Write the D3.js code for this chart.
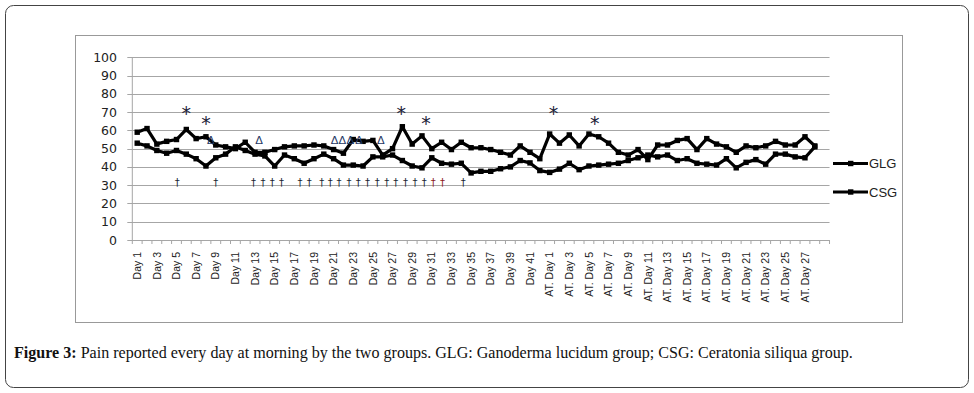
<!DOCTYPE html>
<html>
<head>
<meta charset="utf-8">
<script src="https://cdn.jsdelivr.net/npm/d3@7"></script>
<style>
	body { margin: 0; background: #fff; }
	svg { display: block; }
</style>
</head>
<body>
<svg id="chart" width="974" height="393"></svg>
<script>
// 42 days of treatment, 28 days after treatment, and one empty slot Excel left at the end
const categories = d3.range(1, 43).map(d => "Day " + d)
	.concat(d3.range(1, 29).map(d => "AT. Day " + d))
	.concat([""]);

// pain scores
const glg = [53, 51.5, 49, 47.5, 49, 47, 44.5, 40.5, 45, 47,
	51, 49, 47, 46, 40.5, 46.5, 44.5, 42, 44.5, 47,
	44.5, 41, 41, 40.5, 45.5, 45.5, 46.5, 43.5, 40.5, 39.5,
	45, 42, 41.5, 42, 36.7, 37.6, 37.6, 39, 40, 43.5,
	42.2, 38, 37, 38.8, 42, 38.5, 40.5, 41, 41.5, 42,
	43.5, 45, 46.5, 45.5, 46.5, 43.5, 44.5, 42, 41.5, 41,
	44.5, 39.5, 42.5, 44, 41.5, 47, 47, 45.5, 45, 51];

const csg = [59, 61, 52.5, 54, 55, 60.5, 55.5, 56.5, 52, 51,
	50, 53.5, 48, 48, 49.5, 51, 51.5, 51.5, 52, 51.5,
	49.5, 47.5, 55, 54, 54.5, 46.5, 50, 62, 52.5, 57,
	50, 53.5, 49.5, 53.5, 50.5, 50.5, 49.5, 48, 46.5, 51.5,
	48, 44.5, 58, 53, 57.5, 51.5, 58, 56.5, 53, 48,
	46.5, 49.5, 44, 52, 52, 54.5, 55.5, 49.5, 55.5, 52.5,
	51, 48, 51.5, 50.5, 51.5, 54, 52, 52, 56.5, 51.5];

const yTicks = [0, 10, 20, 30, 40, 50, 60, 70, 80, 90, 100];

// significance marks typed over the plot: [category position, value]
const stars = [[5.0, 70.4], [7.0, 65.1], [26.9, 70.4], [29.4, 65.1], [42.4, 70.4], [46.6, 65.1]];
const deltas = [7.5, 12.4, 20.1, 20.9, 21.7, 22.6, 24.8];
const deltaValue = 54.8;
const daggers = [4.07, 8.01, 11.85, 12.8, 13.75, 14.7, 16.57, 17.52, 18.78, 19.65, 20.54,
	21.56, 22.5, 23.46, 24.44, 25.4, 26.34, 27.33, 28.28, 29.23, 30.14, 31.1, 33.2];
const redDaggers = [30.14, 31.1];
const daggerValue = 31.6;

const svg = d3.select("#chart");

// outer figure frame
svg.append("rect")
	.attr("x", 5.5).attr("y", 5.5)
	.attr("width", 963).attr("height", 382)
	.attr("rx", 8)
	.attr("fill", "none")
	.attr("stroke", "#444");

// chart area border
svg.append("rect")
	.attr("x", 75.5).attr("y", 35.5)
	.attr("width", 827).attr("height", 287)
	.attr("fill", "#fff")
	.attr("stroke", "#999");

const plotLeft = 132.3, plotTop = 57.3, plotBottom = 240;
const step = 9.82;

const x = d3.scaleBand()
	.domain(categories)
	.range([plotLeft, plotLeft + step * categories.length])
	.padding(0);

const y = d3.scaleLinear()
	.domain([0, 100])
	.range([plotBottom, plotTop]);

// category position (can be fractional) -> pixel centre
const xPos = i => plotLeft + (i + 0.5) * x.step();
const plotRight = x.range()[1];

// horizontal grid
svg.append("g")
	.selectAll("line")
	.data(yTicks)
	.enter()
	.append("line")
	.attr("x1", plotLeft - 5)
	.attr("x2", plotRight)
	.attr("y1", d => Math.round(y(d)) + 0.5)
	.attr("y2", d => Math.round(y(d)) + 0.5)
	.attr("stroke", "#a6a6a6")
	.attr("stroke-width", 1);

// y axis line and labels
svg.append("line")
	.attr("x1", plotLeft).attr("x2", plotLeft)
	.attr("y1", plotTop).attr("y2", plotBottom)
	.attr("stroke", "#a6a6a6");

svg.append("g")
	.selectAll("text")
	.data(yTicks)
	.enter()
	.append("text")
	.attr("x", 117)
	.attr("y", d => y(d))
	.attr("dy", "0.36em")
	.attr("text-anchor", "end")
	.attr("font-family", "DejaVu Sans")
	.attr("font-size", "12.5px")
	.attr("fill", "#222")
	.text(d => d);

// x axis: tick marks between categories, labels on every other one
const xAxis = svg.append("g");
xAxis.selectAll("line")
	.data(d3.range(categories.length + 1))
	.enter()
	.append("line")
	.attr("x1", i => plotLeft + i * x.step())
	.attr("x2", i => plotLeft + i * x.step())
	.attr("y1", plotBottom)
	.attr("y2", plotBottom + 4)
	.attr("stroke", "#a6a6a6");

xAxis.selectAll("text")
	.data(categories.filter((c, i) => i % 2 === 0 && c !== ""))
	.enter()
	.append("text")
	.attr("transform", d => `translate(${x(d) + x.bandwidth() / 2},252) rotate(-90)`)
	.attr("dy", "0.35em")
	.attr("text-anchor", "end")
	.attr("font-family", "Liberation Sans")
	.attr("font-size", "10.5px")
	.attr("fill", "#222")
	.text(d => d);

// the two series
const line = d3.line()
	.x((d, i) => xPos(i))
	.y(d => y(d));

[glg, csg].forEach(series => {
	svg.append("path")
		.datum(series)
		.attr("d", line)
		.attr("fill", "none")
		.attr("stroke", "#000")
		.attr("stroke-width", 3.2)
		.attr("stroke-linejoin", "round");

	svg.append("g")
		.selectAll("rect")
		.data(series)
		.enter()
		.append("rect")
		.attr("x", (d, i) => xPos(i) - 2.7)
		.attr("y", d => y(d) - 2.7)
		.attr("width", 5.4)
		.attr("height", 5.4)
		.attr("fill", "#000");
});

// annotations
svg.append("g")
	.selectAll("text")
	.data(stars)
	.enter()
	.append("text")
	.attr("x", d => xPos(d[0]))
	.attr("y", d => y(d[1]) + 9)
	.attr("text-anchor", "middle")
	.attr("font-family", "DejaVu Sans")
	.attr("font-size", "19px")
	.attr("fill", "#1c2238")
	.text("*");

svg.append("g")
	.selectAll("text")
	.data(deltas)
	.enter()
	.append("text")
	.attr("x", d => xPos(d))
	.attr("y", y(deltaValue))
	.attr("dy", "0.36em")
	.attr("text-anchor", "middle")
	.attr("font-family", "Liberation Sans")
	.attr("font-size", "11.5px")
	.attr("fill", "#1f3864")
	.text("Δ");

svg.append("g")
	.selectAll("text")
	.data(daggers)
	.enter()
	.append("text")
	.attr("x", d => xPos(d))
	.attr("y", y(daggerValue))
	.attr("dy", "0.36em")
	.attr("text-anchor", "middle")
	.attr("font-family", "DejaVu Sans")
	.attr("font-size", "10px")
	.attr("fill", d => redDaggers.includes(d) ? "#8b1a1a" : "#1a1f33")
	.text("†");

// legend
const legend = svg.append("g").attr("class", "legend");
[["GLG", 163.5], ["CSG", 192]].forEach(([name, ly]) => {
	legend.append("line")
		.attr("x1", 833).attr("x2", 868)
		.attr("y1", ly).attr("y2", ly)
		.attr("stroke", "#000")
		.attr("stroke-width", 3.2);
	legend.append("rect")
		.attr("x", 848).attr("y", ly - 2.7)
		.attr("width", 5.4).attr("height", 5.4)
		.attr("fill", "#000");
	legend.append("text")
		.attr("x", 869)
		.attr("y", ly)
		.attr("dy", "0.36em")
		.attr("font-family", "Liberation Sans")
		.attr("font-size", "13px")
		.attr("fill", "#222")
		.text(name);
});

// caption, fitted to the width it has in the figure
const caption = svg.append("text")
	.attr("x", 14)
	.attr("y", 358)
	.attr("font-family", "Liberation Serif")
	.attr("font-size", "15px")
	.attr("fill", "#111");
caption.append("tspan").attr("font-weight", "bold").text("Figure 3:");
caption.append("tspan").text(" Pain reported every day at morning by the two groups. GLG: Ganoderma lucidum group; CSG: Ceratonia siliqua group.");
const w = caption.node().getComputedTextLength();
caption.attr("font-size", (15 * 839 / w).toFixed(2) + "px");
</script>
</body>
</html>
